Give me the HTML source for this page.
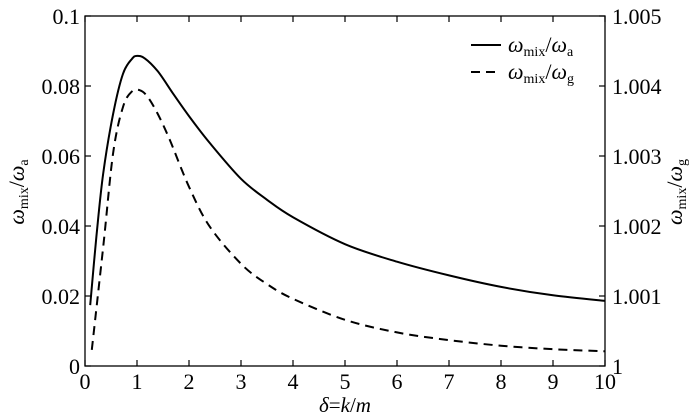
<!DOCTYPE html>
<html><head><meta charset="utf-8"><style>
body{margin:0;background:#fff}
svg{display:block}
svg, svg text{font-family:"Liberation Serif","DejaVu Serif","Times New Roman",serif}
</style></head><body>
<svg id="c" width="700" height="420" xmlns="http://www.w3.org/2000/svg" style="position:absolute;left:0;top:0"></svg>
<script>
const xTicks=[0,1,2,3,4,5,6,7,8,9,10];
const yLTicks=[0,0.02,0.04,0.06,0.08,0.1];
const yLLabels=["0","0.02","0.04","0.06","0.08","0.1"];
const yRTicks=[1,1.001,1.002,1.003,1.004,1.005];
const yRLabels=["1","1.001","1.002","1.003","1.004","1.005"];
const solidX=[0.1,0.22,0.35,0.54,0.73,0.9,1.0,1.15,1.4,1.7,2,2.4,3,3.5,4,5,6,7,8,9,10];
const solidY=[0.0174,0.037,0.055,0.072,0.0835,0.0877,0.0886,0.0879,0.0842,0.0777,0.0714,0.0637,0.0535,0.0475,0.0425,0.0348,0.0298,0.0259,0.0226,0.0202,0.0186];
const dashX=[0.13,0.35,0.54,0.73,0.9,1.05,1.2,1.4,1.63,2,2.4,3,3.5,4,5,6,7,8,9,10];
const dashY=[1.00023,1.0017,1.00304,1.0037,1.00392,1.00394,1.00385,1.0036,1.00323,1.00256,1.00199,1.00146,1.00117,1.00096,1.00066,1.00048,1.00037,1.00029,1.00024,1.00021];
const L=85,R=605,T=16,B=366;
const sx=v=>L+(v-0)/10*(R-L);
const syL=v=>B-(v/0.1)*(B-T);
const syR=v=>B-((v-1)/0.005)*(B-T);
const svg=document.getElementById('c');
const NS='http://www.w3.org/2000/svg';
function mk(tag,attrs,parent){const e=document.createElementNS(NS,tag);for(const k in attrs)e.setAttribute(k,attrs[k]);(parent||svg).appendChild(e);return e;}
const FONT="Liberation Serif, DejaVu Serif, serif";
const frame=mk('rect',{x:L,y:T,width:R-L,height:B-T,fill:'none',stroke:'#000','stroke-width':1.3});


xTicks.forEach(v=>{
  const x=sx(v);
  const t=mk('line',{x1:x,x2:x,y1:B,y2:B-6,stroke:'#000','stroke-width':1.2});
  
  
  const t2=mk('line',{x1:x,x2:x,y1:T,y2:T+6,stroke:'#000','stroke-width':1.2});
  
  
  const lb=mk('text',{x:x,y:B+23,'text-anchor':'middle','font-size':22,'font-family':FONT});
  lb.textContent=v;
  
  
});
yLTicks.forEach((v,i)=>{
  const y=syL(v);
  const t=mk('line',{x1:L,x2:L+6,y1:y,y2:y,stroke:'#000','stroke-width':1.2});
  
  
  const lb=mk('text',{x:L-5,y:y+8,'text-anchor':'end','font-size':22,'font-family':FONT});
  lb.textContent=yLLabels[i];
  
  
});
yRTicks.forEach((v,i)=>{
  const y=syR(v);
  const t=mk('line',{x1:R,x2:R-6,y1:y,y2:y,stroke:'#000','stroke-width':1.2});
  
  
  const lb=mk('text',{x:R+7,y:y+8,'text-anchor':'start','font-size':22,'font-family':FONT});
  lb.textContent=yRLabels[i];
  
  
});
function path(xs,ys,fy){
  const p=xs.map((x,i)=>[sx(x),fy(ys[i])]);
  let d='M'+p[0][0].toFixed(1)+','+p[0][1].toFixed(1);
  for(let i=0;i<p.length-1;i++){
    const p0=p[Math.max(0,i-1)],p1=p[i],p2=p[i+1],p3=p[Math.min(p.length-1,i+2)];
    const c1=[p1[0]+(p2[0]-p0[0])/6,p1[1]+(p2[1]-p0[1])/6];
    const c2=[p2[0]-(p3[0]-p1[0])/6,p2[1]-(p3[1]-p1[1])/6];
    d+='C'+c1[0].toFixed(1)+','+c1[1].toFixed(1)+' '+c2[0].toFixed(1)+','+c2[1].toFixed(1)+' '+p2[0].toFixed(1)+','+p2[1].toFixed(1);
  }
  return d;
}
const s=mk('path',{d:path(solidX,solidY,syL),fill:'none',stroke:'#000','stroke-width':2,'stroke-linejoin':'round'});


const dsh=mk('path',{d:path(dashX,dashY,syR),fill:'none',stroke:'#000','stroke-width':2,'stroke-dasharray':'9,6'});


</script>
<svg style="position:absolute;left:0;top:0" width="700" height="420" xmlns="http://www.w3.org/2000/svg" font-family="Liberation Serif, DejaVu Serif, serif">
  <g>
    <line x1="471" y1="45" x2="501" y2="45" stroke="#000" stroke-width="2"/>
    <text x="508" y="52" font-size="22"><tspan font-style="italic">ω</tspan><tspan font-size="14" dy="4">mix</tspan><tspan dy="-4">/</tspan><tspan font-style="italic">ω</tspan><tspan font-size="14" dy="4">a</tspan></text>
    <line x1="471" y1="72" x2="501" y2="72" stroke="#000" stroke-width="2" stroke-dasharray="9,6"/>
    <text x="508" y="79" font-size="22"><tspan font-style="italic">ω</tspan><tspan font-size="14" dy="4">mix</tspan><tspan dy="-4">/</tspan><tspan font-style="italic">ω</tspan><tspan font-size="14" dy="4">g</tspan></text>
  </g>
  <text x="345" y="412" text-anchor="middle" font-size="21"><tspan font-style="italic">δ</tspan>=<tspan font-style="italic">k</tspan>/<tspan font-style="italic">m</tspan></text>
  <text transform="translate(24,192) rotate(-90)" text-anchor="middle" font-size="22"><tspan font-style="italic">ω</tspan><tspan font-size="14" dy="4">mix</tspan><tspan dy="-4">/</tspan><tspan font-style="italic">ω</tspan><tspan font-size="14" dy="4">a</tspan></text>
  <text transform="translate(682,192) rotate(-90)" text-anchor="middle" font-size="22"><tspan font-style="italic">ω</tspan><tspan font-size="14" dy="4">mix</tspan><tspan dy="-4">/</tspan><tspan font-style="italic">ω</tspan><tspan font-size="14" dy="4">g</tspan></text>
</svg>
</body></html>
